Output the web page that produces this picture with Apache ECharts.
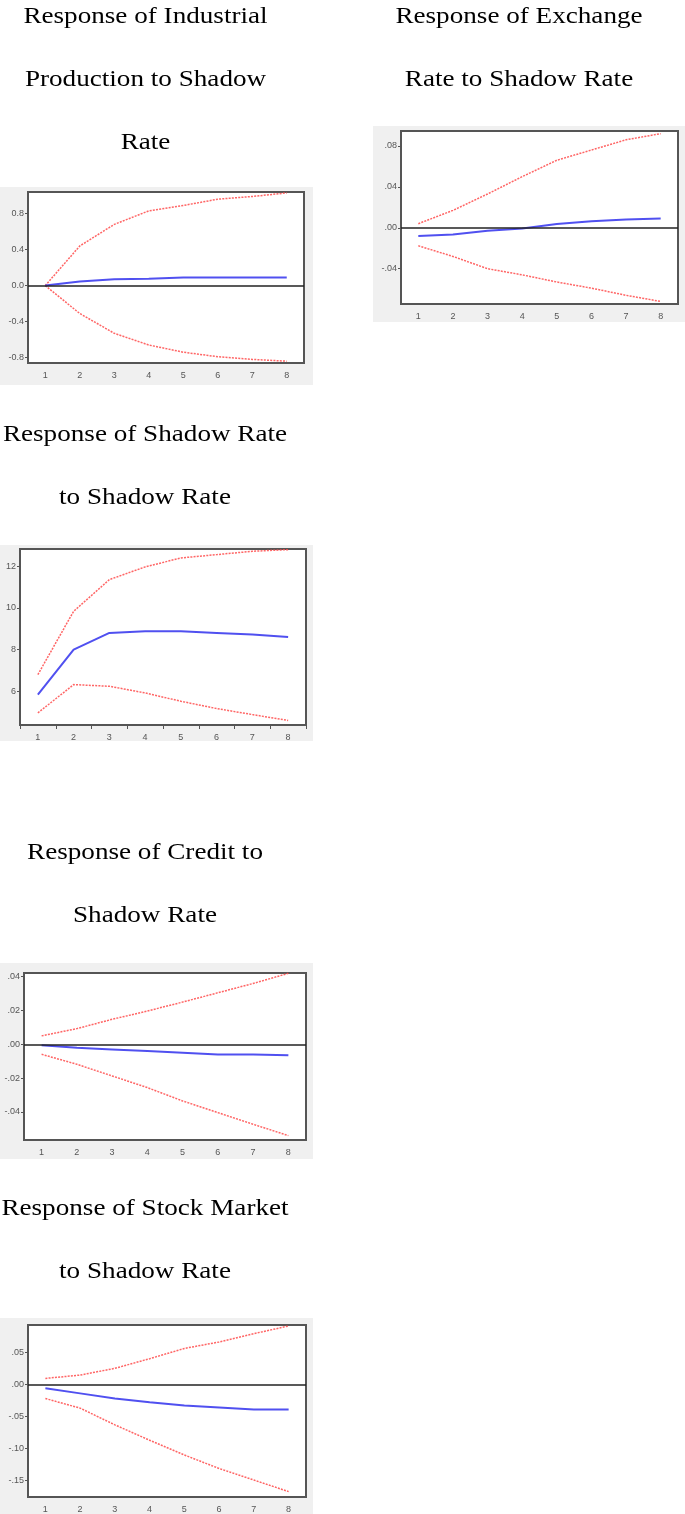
<!DOCTYPE html>
<html>
<head>
<meta charset="utf-8">
<script src="https://cdn.jsdelivr.net/npm/echarts@6/dist/echarts.min.js"></script>
<style>
html,body{margin:0;padding:0;background:#fff;}
#chart{width:685px;height:1514px;}
</style>
</head>
<body>
<div id="chart"></div>
<script>
// ---- Data ----
const periods = ['1','2','3','4','5','6','7','8'];

// Response of Industrial Production to Shadow Rate
const ipIrf   = [0.0, 0.045, 0.07, 0.075, 0.09, 0.09, 0.09, 0.09];
const ipUpper = [0.0, 0.44, 0.68, 0.83, 0.89, 0.96, 0.99, 1.03];
const ipLower = [0.0, -0.31, -0.53, -0.66, -0.74, -0.79, -0.82, -0.84];
const ipTicks = [-0.8, -0.4, 0.0, 0.4, 0.8];
const ipTickLabels = ['-0.8', '-0.4', '0.0', '0.4', '0.8'];

// Response of Exchange Rate to Shadow Rate
const erIrf   = [-0.008, -0.0065, -0.003, -0.0007, 0.0036, 0.0065, 0.008, 0.009];
const erUpper = [0.004, 0.017, 0.033, 0.050, 0.066, 0.076, 0.086, 0.092];
const erLower = [-0.0176, -0.028, -0.040, -0.046, -0.053, -0.059, -0.066, -0.072];
const erTicks = [-0.04, 0.0, 0.04, 0.08];
const erTickLabels = ['-.04', '.00', '.04', '.08'];

// Response of Shadow Rate to Shadow Rate
const srIrf   = [5.84, 8.0, 8.8, 8.88, 8.88, 8.8, 8.72, 8.6];
const srUpper = [6.8, 9.84, 11.36, 11.97, 12.4, 12.56, 12.72, 12.8];
const srLower = [4.96, 6.32, 6.24, 5.92, 5.52, 5.17, 4.88, 4.6];
const srTicks = [6, 8, 10, 12];
const srTickLabels = ['6', '8', '10', '12'];

// Response of Credit to Shadow Rate
const crIrf   = [-0.0006, -0.002, -0.003, -0.004, -0.005, -0.006, -0.006, -0.0065];
const crUpper = [0.005, 0.0093, 0.0148, 0.0197, 0.025, 0.0305, 0.036, 0.042];
const crLower = [-0.0059, -0.0118, -0.0187, -0.0256, -0.0335, -0.0404, -0.0473, -0.054];
const crTicks = [-0.04, -0.02, 0.0, 0.02, 0.04];
const crTickLabels = ['-.04', '-.02', '.00', '.02', '.04'];

// Response of Stock Market to Shadow Rate
const smIrf   = [-0.006, -0.014, -0.022, -0.028, -0.033, -0.036, -0.039, -0.039];
const smUpper = [0.0093, 0.0145, 0.025, 0.040, 0.056, 0.066, 0.079, 0.091];
const smLower = [-0.022, -0.037, -0.063, -0.087, -0.110, -0.131, -0.149, -0.167];
const smTicks = [-0.15, -0.10, -0.05, 0.0, 0.05];
const smTickLabels = ['-.15', '-.10', '-.05', '.00', '.05'];

// ---- Layout ----
const panels = [
  {title:['Response of Industrial','Production to Shadow','Rate'], tx:145.5, ty:[17,80,143],
   rect:[0,187,313,198], grid:[28,192,276,171], min:-0.86, max:1.04,
   irf:ipIrf, up:ipUpper, lo:ipLower, ticks:ipTicks, labels:ipTickLabels, zero:true},
  {title:['Response of Exchange','Rate to Shadow Rate'], tx:519, ty:[17,80],
   rect:[373,126,312,196], grid:[401,131,277,173], min:-0.0745, max:0.0946,
   irf:erIrf, up:erUpper, lo:erLower, ticks:erTicks, labels:erTickLabels, zero:true},
  {title:['Response of Shadow Rate','to Shadow Rate'], tx:145, ty:[435,498],
   rect:[0,545,313,196], grid:[20,549,286,176], min:4.38, max:12.83,
   irf:srIrf, up:srUpper, lo:srLower, ticks:srTicks, labels:srTickLabels, zero:false},
  {title:['Response of Credit to','Shadow Rate'], tx:145, ty:[853,916],
   rect:[0,963,313,196], grid:[24,973,282,167], min:-0.0566, max:0.0422,
   irf:crIrf, up:crUpper, lo:crLower, ticks:crTicks, labels:crTickLabels, zero:true},
  {title:['Response of Stock Market','to Shadow Rate'], tx:145, ty:[1209,1272],
   rect:[0,1318,313,196], grid:[28,1325,278,172], min:-0.1754, max:0.0925,
   irf:smIrf, up:smUpper, lo:smLower, ticks:smTicks, labels:smTickLabels, zero:true}
];

const grids = [], xAxes = [], yAxes = [], series = [], graphics = [];
const tickColor = '#555';
panels.forEach((p, i) => {
  graphics.push({type:'rect', z:-10, silent:true,
    shape:{x:p.rect[0], y:p.rect[1], width:p.rect[2], height:p.rect[3]},
    style:{fill:'#f0f0f0'}});
  p.title.forEach((t, k) => {
    graphics.push({type:'text', x:p.tx, y:p.ty[k], scaleX:1.18, z:5, silent:true,
      style:{text:t, fill:'#000', font:'23px "Liberation Serif"', align:'center', verticalAlign:'middle'}});
  });
  grids.push({left:p.grid[0], top:p.grid[1], width:p.grid[2], height:p.grid[3],
    show:true, backgroundColor:'#fff', borderColor:'#555', borderWidth:2, z:1});
  xAxes.push({type:'category', gridIndex:i, data:periods, boundaryGap:true,
    axisLine:{show:true, lineStyle:{color:'#555', width:2}},
    axisTick:{show:true, length:4, lineStyle:{color:tickColor}},
    axisLabel:{color:'#555', fontSize:9, fontFamily:'Liberation Sans', margin:8},
    splitLine:{show:false}});
  const labMap = {};
  p.ticks.forEach((v, k) => { labMap[v.toFixed(4)] = p.labels[k]; });
  yAxes.push({type:'value', gridIndex:i, min:p.min, max:p.max,
    axisLine:{show:true, lineStyle:{color:'#555', width:2}},
    axisTick:{show:true, length:3, customValues:p.ticks, lineStyle:{color:tickColor}},
    axisLabel:{color:'#555', fontSize:9, fontFamily:'Liberation Sans', margin:4,
      customValues:p.ticks,
      formatter:(v)=> labMap[Number(v).toFixed(4)] ?? ''},
    splitLine:{show:false}});
  const redStyle = {color:'#ff4a4a', width:1.5, type:[2,1.2], opacity:0.85};
  series.push({type:'line', xAxisIndex:i, yAxisIndex:i, data:p.up, symbol:'none',
    lineStyle:redStyle, silent:true, animation:false, z:3});
  series.push({type:'line', xAxisIndex:i, yAxisIndex:i, data:p.lo, symbol:'none',
    lineStyle:redStyle, silent:true, animation:false, z:3});
  const irfSeries = {type:'line', xAxisIndex:i, yAxisIndex:i, data:p.irf, symbol:'none',
    lineStyle:{color:'#5050f0', width:2}, silent:true, animation:false, z:4};
  if (p.zero) {
    irfSeries.markLine = {silent:true, symbol:['none','none'], label:{show:false},
      animation:false, lineStyle:{color:'#222', width:1.5, type:'solid'},
      data:[{yAxis:0}]};
  }
  series.push(irfSeries);
});

const chart = echarts.init(document.getElementById('chart'), null, {renderer:'canvas'});
chart.setOption({
  backgroundColor:'#fff',
  animation:false,
  grid:grids, xAxis:xAxes, yAxis:yAxes, series:series,
  graphic:{elements:graphics}
});
</script>
</body>
</html>
